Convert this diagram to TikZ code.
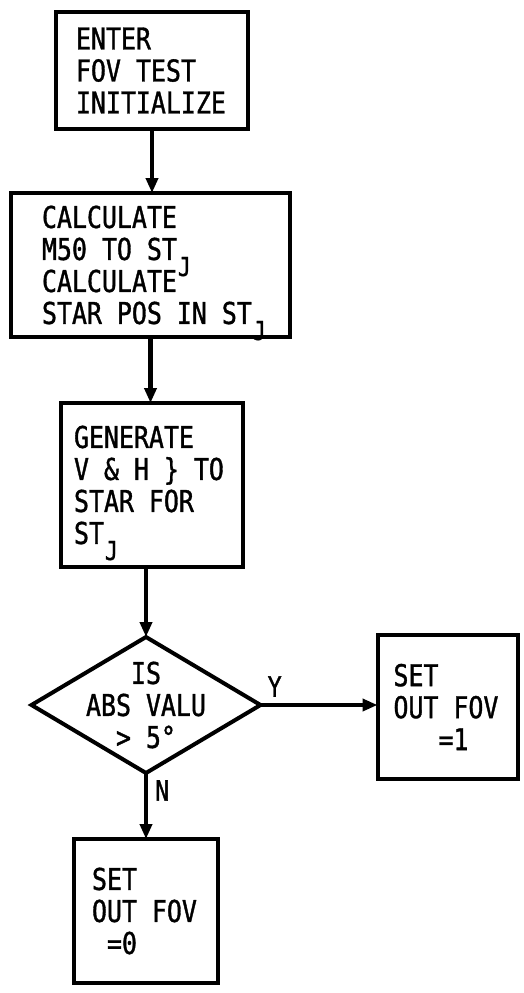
\documentclass[tikz,border=0pt]{standalone}
\usepackage{fontspec}
\usetikzlibrary{positioning,arrows.meta,shapes.geometric}
\newfontfamily\flowfont[FakeStretch=0.83,FakeBold=1.2]{DejaVu Sans Mono}
\newcommand{\subJ}{\rlap{\kern1pt\raisebox{-16pt}[0pt][0pt]{\fontsize{26}{26}\selectfont J}}}
\tikzset{
  proc/.style={draw=black, line width=4pt, align=flush left, inner ysep=0pt, outer sep=0pt,
    font=\flowfont\fontsize{30}{32}\selectfont, text=black},
  dec/.style={draw=black, diamond, line width=4pt, align=center, inner sep=-10pt,
    outer sep=0pt, aspect=1.68, minimum width=229pt, minimum height=136pt,
    font=\flowfont\fontsize{30}{32}\selectfont, text=black},
  flow/.style={-{Triangle[length=15pt,width=12pt]}, line width=4.5pt, draw=black},
  lbl/.style={inner sep=0pt, font=\flowfont\fontsize{28}{28}\selectfont, text=black},
}
\begin{document}
\begin{tikzpicture}
  \useasboundingbox (0,0) rectangle (523pt,-993pt);
  \node[proc, text width=152pt, inner xsep=20pt, minimum height=117pt] (enter)
    at (152pt,-70.5pt) {ENTER\\FOV TEST\\INITIALIZE};
  \node[proc, text width=217pt, inner xsep=31pt, minimum height=144pt,
    below=64pt of enter, xshift=-1.5pt] (calc)
    {CALCULATE\\M50 TO ST\subJ\\CALCULATE\\STAR POS IN ST\subJ};
  \node[proc, text width=156pt, inner xsep=13pt, minimum height=164pt,
    below=66pt of calc, xshift=1.5pt] (gen)
    {GENERATE\\V \& H \} TO\\STAR FOR\\ST\subJ};
  \node[dec, below=70pt of gen, xshift=-6pt] (dia) {IS\\ABS VALU\\> 5°};
  \node[proc, text width=108pt, inner xsep=18pt, minimum height=144pt,
    below=66pt of dia] (setzero) {SET\\OUT FOV\\\hphantom{X}=0};
  \node[proc, text width=108pt, inner xsep=16pt, minimum height=144pt,
    right=117pt of dia, yshift=-2pt] (setone) {SET\\OUT FOV\\\hphantom{XXX}=1};
  \node[lbl, above right=8pt and 7pt of dia.east] (ylab) {Y};
  \node[lbl, below right=7pt and 9pt of dia.south] (nlab) {N};
  \draw[flow] (enter.south) -- (enter.south |- calc.north);
  \draw[flow] (calc.south) -- (calc.south |- gen.north);
  \draw[flow] (dia.north |- gen.south) -- (dia.north);
  \draw[flow] (dia.south) -- (setzero.north);
  \draw[flow] (dia.east) -- (dia.east -| setone.west);
\end{tikzpicture}
\end{document}
